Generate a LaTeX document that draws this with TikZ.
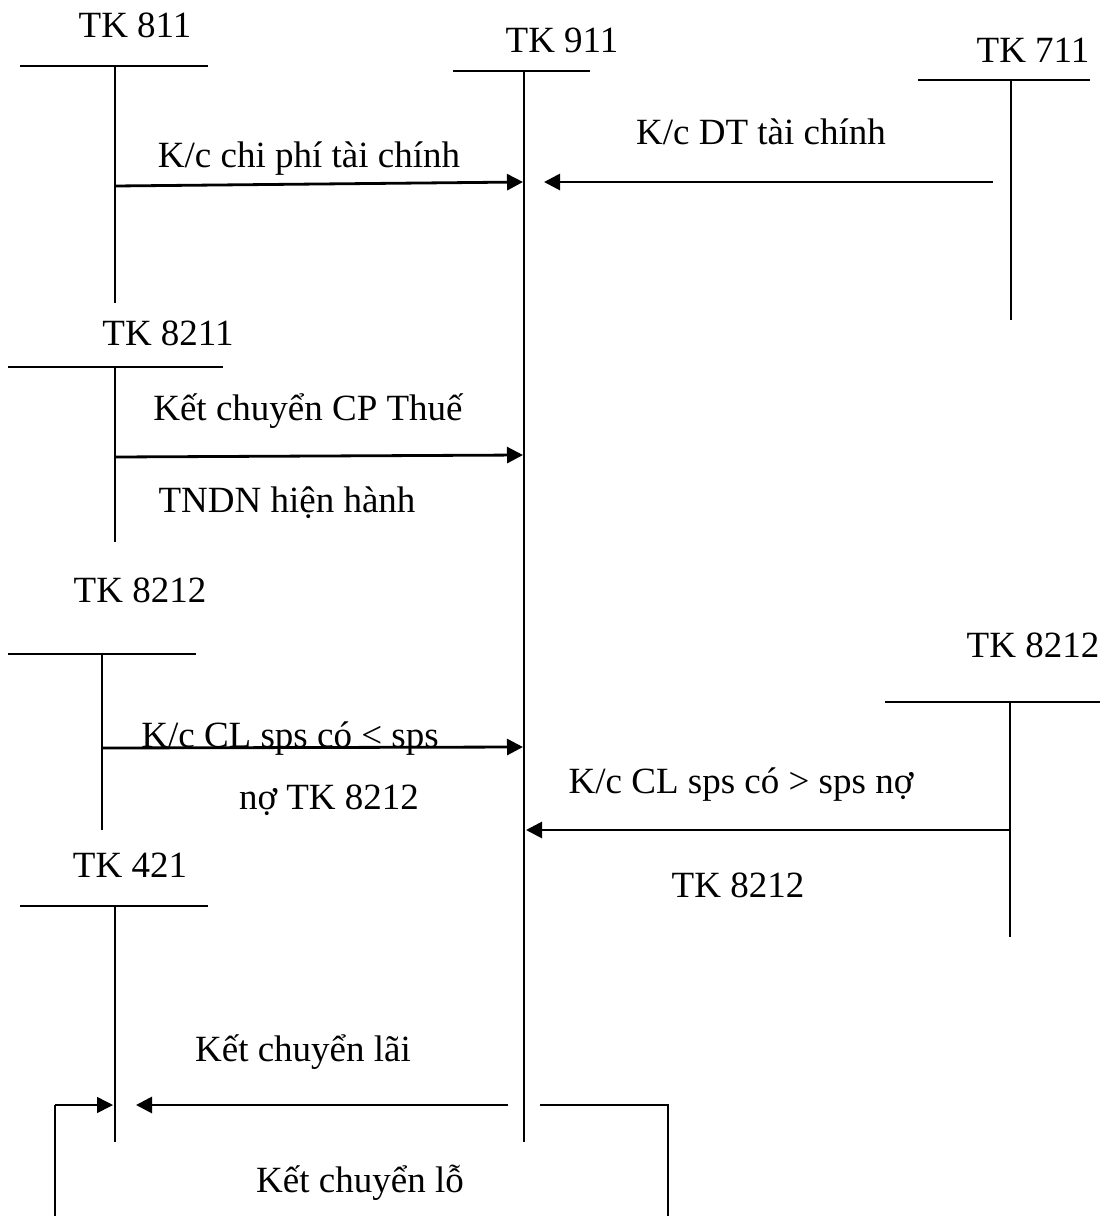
\documentclass[tikz,border=0pt]{standalone}
\usepackage{fontspec}
\setmainfont{Liberation Serif}
\usetikzlibrary{arrows.meta}

\begin{document}
\begin{tikzpicture}[
    x=0.5pt, y=-0.5pt,
    lbl/.style={inner sep=0pt, anchor=base, font=\rmfamily\fontsize{18.5}{22}\selectfont},
    tbar/.style={line width=1pt},
    tstem/.style={line width=0.7pt},
    flow/.style={-{Triangle[length=8pt,width=8pt]}, line width=1.4pt},
    back/.style={line width=0.7pt}
]
\useasboundingbox (0,0) rectangle (1110,1216);

% account titles
\node[lbl] (t811) at (135,37) {TK 811};
\node[lbl] (t911) at (562,52) {TK 911};
\node[lbl] (t711) at (1033,62) {TK 711};
\node[lbl] (t8211) at (168,345) {TK 8211};
\node[lbl] (t8212a) at (140,602) {TK 8212};
\node[lbl] (t8212b) at (1033,657) {TK 8212};
\node[lbl] (t421) at (130,877) {TK 421};

% T-accounts
\draw[tbar] (20,66) -- (208,66);   \draw[tstem] (115,66) -- (115,303);
\draw[tbar] (453,71) -- (590,71);  \draw[tstem] (524,71) -- (524,1142);
\draw[tbar] (918,80) -- (1090,80); \draw[tstem] (1011,80) -- (1011,320);
\draw[tbar] (8,367) -- (223,367);  \draw[tstem] (115,367) -- (115,542);
\draw[tbar] (8,654) -- (196,654);  \draw[tstem] (102,654) -- (102,830);
\draw[tbar] (885,702) -- (1100,702); \draw[tstem] (1010,702) -- (1010,937);
\draw[tbar] (20,906) -- (208,906);  \draw[tstem] (115,906) -- (115,1142);

% ends of the flows
\coordinate (cp811) at (115,186);
\coordinate (in811) at (523,182);
\coordinate (dt711) at (993,182);
\coordinate (in711) at (544,182);
\coordinate (cp8211) at (115,457);
\coordinate (in8211) at (523,455);
\coordinate (cl8212a) at (102,748);
\coordinate (in8212a) at (523,747);
\coordinate (cl8212b) at (1010,830);
\coordinate (in8212b) at (526,830);
\coordinate (lai) at (508,1105);
\coordinate (lai421) at (136,1105);
\coordinate (lo) at (540,1105);
\coordinate (lo421) at (113,1105);

% flows
\draw[flow] (cp811) -- (in811);
\draw[flow] (dt711) -- (in711);
\draw[flow] (cp8211) -- (in8211);
\draw[flow] (cl8212a) -- (in8212a);
\draw[flow] (cl8212b) -- (in8212b);
\draw[flow] (lai) -- (lai421);
\draw[back] (lo) -- (668,1105) -- (668,1240) -- (55,1240) -- (55,1105);
\draw[flow, line width=0.8pt] (55,1105) -- (lo421);

% flow labels
\node[lbl] (lcp811) at (309,167) {K/c chi phí tài chính};
\node[lbl] (ldt711) at (761,144) {K/c DT tài chính};
\node[lbl] (lcp8211) at (308,420) {Kết chuyển CP Thuế};
\node[lbl] (ltndn) at (287,512) {TNDN hiện hành};
\node[lbl] (lcla) at (290,747) {K/c CL sps có < sps};
\node[lbl] (lnoa) at (329,809) {nợ TK 8212};
\node[lbl] (lclb) at (741,793) {K/c CL sps có > sps nợ};
\node[lbl] (lnob) at (738,897) {TK 8212};
\node[lbl] (llai) at (303,1061) {Kết chuyển lãi};
\node[lbl] (llo) at (360,1192) {Kết chuyển lỗ};
\end{tikzpicture}
\end{document}
